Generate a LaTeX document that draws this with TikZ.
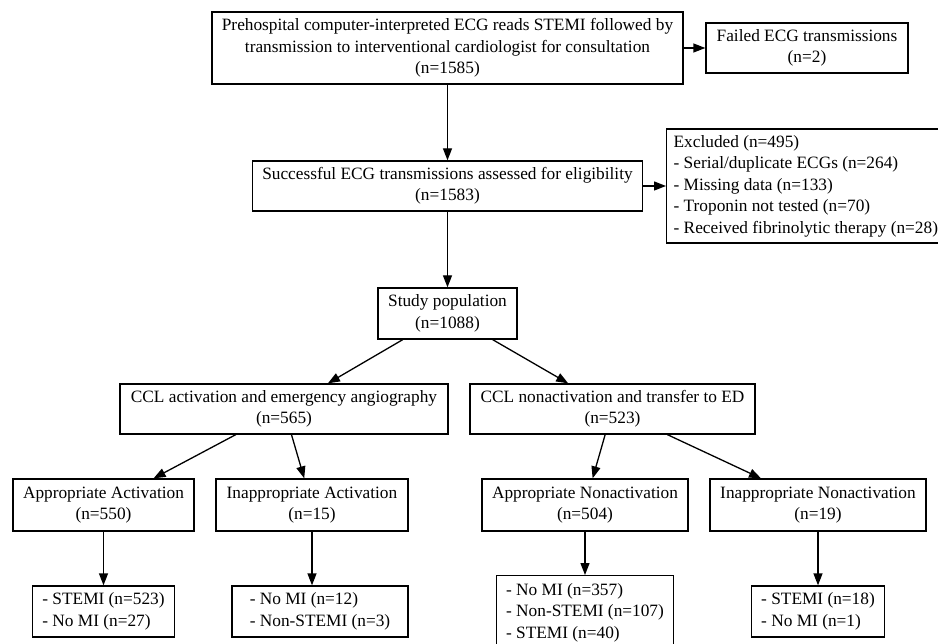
\documentclass[tikz,border=0pt]{standalone}
\usepackage{fontspec}
\setmainfont{Liberation Serif}
\usepackage{tikz}
\usetikzlibrary{arrows.meta,positioning}

\begin{document}
\begin{tikzpicture}[
  x=1pt, y=-1pt,
  box/.style={draw, line width=1.3pt, inner sep=0pt, minimum height=51pt, align=center, font=\fontsize{17.3}{21.5}\selectfont},
  listbox/.style={box, align=left},
  arr/.style={-{Triangle[length=12pt,width=9pt]}, line width=1.3pt}
]
\useasboundingbox (0,0) rectangle (938,644);
% top of the flow
\node[box, minimum width=471pt, minimum height=72pt] (pre) at (447.5,48)
  {Prehospital computer-interpreted ECG reads STEMI followed by\\transmission to interventional cardiologist for consultation\\(n=1585)};
\node[box, minimum width=202pt, minimum height=50pt] (fail) at (807,48) {Failed ECG transmissions\\(n=2)};
\node[box, minimum width=390pt, minimum height=50pt] (elig) at (447.5,186) {Successful ECG transmissions assessed for eligibility\\(n=1583)};
\node[listbox, inner xsep=7pt, minimum height=114pt, anchor=west] (excl) at (666,186)
  {Excluded (n=495)\\- Serial/duplicate ECGs (n=264)\\- Missing data (n=133)\\- Troponin not tested (n=70)\\- Received fibrinolytic therapy (n=28)};
\node[box, minimum width=139pt] (study) at (447.5,313.5) {Study population\\(n=1088)};
% CCL decision
\node[box, minimum width=328pt, minimum height=50pt] (act) at (284,409) {CCL activation and emergency angiography\\(n=565)};
\node[box, minimum width=285pt, minimum height=50pt] (nonact) at (612.5,409) {CCL nonactivation and transfer to ED\\(n=523)};
\node[box, minimum width=181pt, minimum height=52pt] (appact) at (103.5,505) {Appropriate Activation\\(n=550)};
\node[box, minimum width=192pt, minimum height=52pt] (inappact) at (312,505) {Inappropriate Activation\\(n=15)};
\node[box, minimum width=206pt, minimum height=52pt] (appnon) at (585,505) {Appropriate Nonactivation\\(n=504)};
\node[box, minimum width=216pt, minimum height=52pt] (inappnon) at (818,505) {Inappropriate Nonactivation\\(n=19)};
% outcomes
\node[listbox, minimum width=142pt] (outaa) at (103.5,611.5) {- STEMI (n=523)\\- No MI (n=27)};
\node[listbox, minimum width=176pt] (outia) at (320,611.5) {- No MI (n=12)\\- Non-STEMI (n=3)};
\node[listbox, minimum width=177pt, minimum height=74pt, anchor=north] (outan) at (585,575) {- No MI (n=357)\\- Non-STEMI (n=107)\\- STEMI (n=40)};
\node[listbox, minimum width=133pt] (outin) at (818,611.5) {- STEMI (n=18)\\- No MI (n=1)};

\draw[arr] (pre) -- (fail);
\draw[arr] (pre) -- (elig);
\draw[arr] (elig) -- (excl);
\draw[arr] (elig) -- (study);
\draw[arr] (study) -- (act);
\draw[arr] (study) -- (nonact);
\draw[arr] (act) -- (appact);
\draw[arr] (act) -- (inappact);
\draw[arr] (nonact) -- (appnon);
\draw[arr] (nonact) -- (inappnon);
\draw[arr] (appact) -- (outaa);
\draw[arr] (inappact.south) -- (inappact.south |- outia.north);
\draw[arr] (appnon) -- (outan);
\draw[arr] (inappnon) -- (outin);
\end{tikzpicture}
\end{document}
